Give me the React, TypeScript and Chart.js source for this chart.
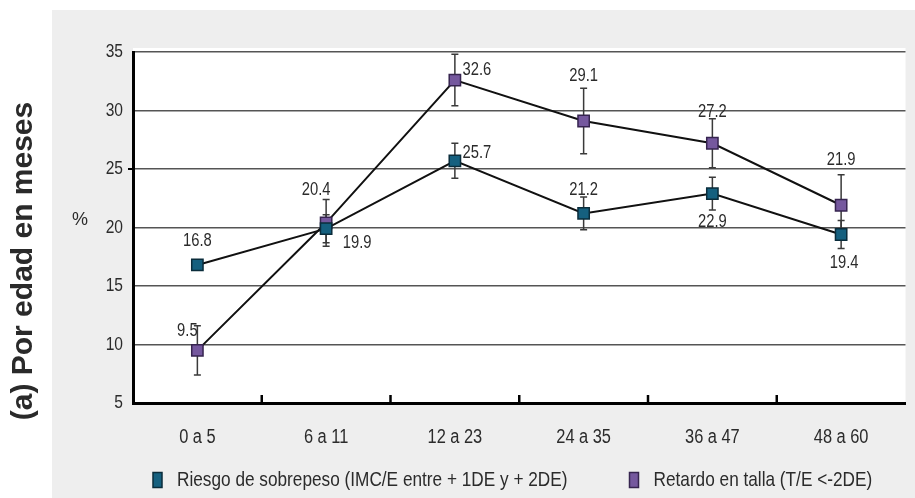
import React, { useEffect, useRef } from "react";
import { Chart, registerables } from "chart.js";

Chart.register(...registerables);

// ---------- data ----------
const categories = ["0 a 5", "6 a 11", "12 a 23", "24 a 35", "36 a 47", "48 a 60"];
const riesgoValues = [16.8, 19.9, 25.7, 21.2, 22.9, 19.4];
const riesgoErrors = [0, 1.2, 1.5, 1.4, 1.4, 1.2];
const retardoValues = [9.5, 20.4, 32.6, 29.1, 27.2, 21.9];
const retardoErrors = [2.1, 2.0, 2.2, 2.8, 2.1, 2.6];
const yMin = 5;
const yMax = 35;
const yStep = 5;
const seriesNames = [
  "Riesgo de sobrepeso (IMC/E entre + 1DE y + 2DE)",
  "Retardo en talla (T/E <-2DE)",
];
const sideTitle = "(a) Por edad en meses";
const yAxisTitle = "%";

// ---------- styles ----------
const SANS = "'Liberation Sans', Arial, sans-serif";
const CONDENSE = 0.82; // horizontal squeeze to imitate a narrow face
const TEXT = "#2b2b2b";
const BLUE_FILL = "#15607f";
const BLUE_EDGE = "#0a2c3b";
const PURPLE_FILL = "#75589e";
const PURPLE_EDGE = "#36244f";
// value label offsets (px) relative to each marker
const riesgoLabelOffsets = [[0, -24], [31, 14], [22, -8], [0, -23], [0, 28], [3, 29]];
const retardoLabelOffsets = [[-10, -19], [-10, -33], [22, -10], [0, -45], [0, -31], [0, -45]];

const errors = [riesgoErrors, retardoErrors];
const labelOffsets = [riesgoLabelOffsets, retardoLabelOffsets];
const fills = [BLUE_FILL, PURPLE_FILL];
const edges = [BLUE_EDGE, PURPLE_EDGE];

function narrowText(ctx: CanvasRenderingContext2D, text: string, x: number, y: number, size: number, align: CanvasTextAlign) {
  ctx.save();
  ctx.font = `${size}px ${SANS}`;
  ctx.textAlign = align;
  ctx.textBaseline = "middle";
  ctx.translate(x, y);
  ctx.scale(CONDENSE, 1);
  ctx.fillText(text, 0, 0);
  const w = ctx.measureText(text).width * CONDENSE;
  ctx.restore();
  return w;
}

const backgroundPlugin = {
  id: "bgPanel",
  beforeDraw(chart: any) {
    const { ctx, width, height, chartArea } = chart;
    ctx.save();
    ctx.fillStyle = "#ffffff";
    ctx.fillRect(0, 0, width, height);
    ctx.fillStyle = "#eeeeee";
    ctx.fillRect(52, 10, width - 52, height - 10);
    ctx.fillStyle = "#ffffff";
    ctx.fillRect(chartArea.left, chartArea.top - 4, chartArea.right - chartArea.left, chartArea.bottom - chartArea.top + 4);
    ctx.restore();
  },
};

const errorBarPlugin = {
  id: "errorBars",
  beforeDatasetsDraw(chart: any) {
    const { ctx } = chart;
    const yScale = chart.scales.y;
    ctx.save();
    ctx.strokeStyle = "#3a3a3a";
    ctx.lineWidth = 1.5;
    chart.data.datasets.forEach((ds: any, di: number) => {
      const meta = chart.getDatasetMeta(di);
      ds.data.forEach((v: number, i: number) => {
        const e = errors[di][i];
        if (!e) return;
        const x = meta.data[i].x;
        const yt = yScale.getPixelForValue(v + e);
        const yb = yScale.getPixelForValue(v - e);
        ctx.beginPath();
        ctx.moveTo(x, yt);
        ctx.lineTo(x, yb);
        ctx.moveTo(x - 3.5, yt);
        ctx.lineTo(x + 3.5, yt);
        ctx.moveTo(x - 3.5, yb);
        ctx.lineTo(x + 3.5, yb);
        ctx.stroke();
      });
    });
    ctx.restore();
  },
};

const decorPlugin = {
  id: "decor",
  afterDraw(chart: any) {
    const { ctx, chartArea } = chart;
    const xScale = chart.scales.x;
    const yScale = chart.scales.y;
    ctx.save();
    // category boundary ticks on x axis (pointing up)
    ctx.strokeStyle = "#000";
    ctx.lineWidth = 2.5;
    for (let i = 1; i < categories.length; i++) {
      const x = (xScale.getPixelForValue(i - 1) + xScale.getPixelForValue(i)) / 2;
      ctx.beginPath();
      ctx.moveTo(x, chartArea.bottom);
      ctx.lineTo(x, chartArea.bottom - 8);
      ctx.stroke();
    }
    // small tick at 25 on y axis
    ctx.lineWidth = 2;
    ctx.beginPath();
    ctx.moveTo(chartArea.left - 5, yScale.getPixelForValue(25));
    ctx.lineTo(chartArea.left, yScale.getPixelForValue(25));
    ctx.stroke();
    ctx.fillStyle = TEXT;
    // axis tick labels
    yScale.ticks.forEach((t: any) => {
      narrowText(ctx, String(t.value), chartArea.left - 10, yScale.getPixelForValue(t.value), 19, "right");
    });
    categories.forEach((c, i) => {
      narrowText(ctx, c, xScale.getPixelForValue(i), 437, 20, "center");
    });
    // value labels
    chart.data.datasets.forEach((ds: any, di: number) => {
      const meta = chart.getDatasetMeta(di);
      ds.data.forEach((v: number, i: number) => {
        const [dx, dy] = labelOffsets[di][i];
        narrowText(ctx, v.toFixed(1), meta.data[i].x + dx, meta.data[i].y + dy, 18, "center");
      });
    });
    // y axis title
    ctx.font = `18px ${SANS}`;
    ctx.textAlign = "center";
    ctx.textBaseline = "middle";
    ctx.fillText(yAxisTitle, 80, 220);
    // side title
    ctx.save();
    ctx.translate(24, 261);
    ctx.rotate(-Math.PI / 2);
    ctx.font = `bold 30px ${SANS}`;
    ctx.fillStyle = "#2a2a2a";
    ctx.fillText(sideTitle, 0, 0);
    ctx.restore();
    // legend
    let x = chartArea.left + 20;
    const ly = 480;
    seriesNames.forEach((name, i) => {
      ctx.fillStyle = fills[i];
      ctx.strokeStyle = edges[i];
      ctx.lineWidth = 1.5;
      ctx.fillRect(x, ly - 7.5, 9, 15);
      ctx.strokeRect(x, ly - 7.5, 9, 15);
      ctx.fillStyle = TEXT;
      const w = narrowText(ctx, name, x + 24, ly, 21, "left");
      x += 24 + w + 62;
    });
    ctx.restore();
  },
};

export default function App() {
  const ref = useRef<HTMLCanvasElement | null>(null);
  useEffect(() => {
    if (!ref.current) return;
    const mk = (label: string, data: number[], i: number) => ({
      label,
      data,
      borderColor: "#111",
      borderWidth: 2,
      tension: 0,
      pointStyle: "rect",
      pointRadius: 8,
      pointBackgroundColor: fills[i],
      pointBorderColor: edges[i],
      pointBorderWidth: 1.5,
      fill: false,
    });
    const chart = new Chart(ref.current, {
      type: "line",
      data: {
        labels: categories,
        datasets: [mk(seriesNames[0], riesgoValues, 0), mk(seriesNames[1], retardoValues, 1)],
      },
      options: {
        animation: false,
        responsive: false,
        maintainAspectRatio: false,
        layout: { padding: { left: 52, top: 52, right: 2, bottom: 0 } },
        plugins: { legend: { display: false }, tooltip: { enabled: false }, title: { display: false } },
        scales: {
          x: {
            offset: true,
            grid: { display: false, drawTicks: false },
            border: { display: true, color: "#000", width: 3 },
            ticks: { display: false },
            afterFit: (s: any) => { s.height = 95; },
          },
          y: {
            min: yMin,
            max: yMax,
            ticks: { stepSize: yStep, display: false },
            grid: { color: "#555", lineWidth: 1.5, drawTicks: false },
            border: { display: true, color: "#000", width: 3 },
            afterFit: (s: any) => { s.width = 81; },
          },
        },
      },
      plugins: [backgroundPlugin, errorBarPlugin, decorPlugin],
    } as any);
    return () => chart.destroy();
  }, []);
  return (
    <div style={{ position: "fixed", left: 0, top: 0, width: 915, height: 498, background: "#fff" }}>
      <canvas ref={ref} width={915} height={498} style={{ width: 915, height: 498, display: "block" }} />
    </div>
  );
}
